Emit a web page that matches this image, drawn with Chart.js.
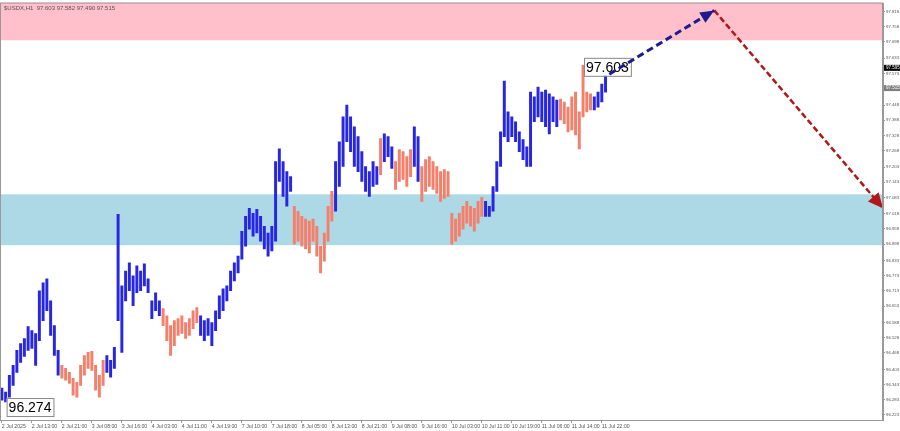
<!DOCTYPE html>
<html><head><meta charset="utf-8">
<script src="https://cdn.jsdelivr.net/npm/chart.js@4"></script>
<style>html,body{margin:0;padding:0;background:#fff;overflow:hidden}#wrap{width:900px;height:431px}</style>
</head><body><div id="wrap"><canvas id="c" width="900" height="431"></canvas></div>
<script>
// ---- data ----
const barHigh = [
96.329,96.313,96.380,96.419,96.478,96.505,96.525,96.572,96.556,96.545,
96.714,96.745,96.761,96.674,96.576,96.478,96.419,96.407,96.391,96.368,
96.352,96.419,96.458,96.470,96.474,96.419,96.380,96.439,96.458,96.439,
96.490,97.016,96.733,96.792,96.824,96.773,96.812,96.792,96.820,96.761,
96.674,96.706,96.674,96.643,96.615,96.576,96.596,96.604,96.615,96.588,
96.604,96.635,96.647,96.615,96.596,96.604,96.588,96.635,96.694,96.721,
96.733,96.792,96.824,96.851,96.949,97.008,97.040,97.020,97.036,97.008,
96.969,96.942,96.969,97.224,97.275,97.224,97.185,97.165,97.048,97.028,
97.008,96.997,96.989,96.997,96.969,96.890,96.942,97.048,97.107,97.224,
97.303,97.401,97.448,97.401,97.362,97.323,97.264,97.205,97.185,97.224,
97.205,97.315,97.334,97.323,97.283,97.224,97.272,97.264,97.244,97.272,
97.362,97.323,97.205,97.232,97.244,97.224,97.205,97.185,97.193,97.185,
97.020,96.997,97.020,97.048,97.067,97.048,97.040,97.067,97.083,97.067,
97.048,97.126,97.224,97.342,97.543,97.421,97.401,97.382,97.342,97.311,
97.283,97.499,97.480,97.519,97.499,97.507,97.492,97.480,97.468,97.472,
97.460,97.440,97.480,97.499,97.421,97.605,97.499,97.492,97.480,97.499,
97.531,97.578];
const barLow = [
96.281,96.274,96.293,96.340,96.391,96.431,96.454,96.478,96.486,96.419,
96.517,96.596,96.635,96.537,96.458,96.380,96.368,96.360,96.348,96.301,
96.293,96.340,96.380,96.407,96.399,96.321,96.293,96.340,96.391,96.372,
96.407,96.596,96.470,96.674,96.714,96.655,96.706,96.714,96.733,96.706,
96.604,96.635,96.615,96.576,96.517,96.458,96.497,96.537,96.545,96.525,
96.537,96.564,96.588,96.537,96.517,96.537,96.497,96.556,96.604,96.635,
96.674,96.714,96.753,96.784,96.839,96.890,96.957,96.930,96.942,96.910,
96.879,96.851,96.871,96.910,97.146,97.087,97.048,97.107,96.898,96.910,
96.890,96.879,96.863,96.910,96.851,96.784,96.831,96.910,96.989,97.028,
97.126,97.205,97.303,97.264,97.205,97.185,97.146,97.107,97.087,97.126,
97.134,97.173,97.224,97.244,97.197,97.114,97.146,97.154,97.126,97.165,
97.205,97.146,97.067,97.107,97.126,97.114,97.099,97.067,97.079,97.087,
96.898,96.910,96.930,96.957,96.981,96.969,96.949,96.981,97.008,97.008,
97.008,97.028,97.107,97.205,97.323,97.303,97.323,97.303,97.264,97.232,
97.205,97.205,97.382,97.401,97.382,97.362,97.334,97.382,97.362,97.389,
97.374,97.342,97.350,97.330,97.275,97.401,97.421,97.429,97.429,97.440,
97.460,97.499];
// wave runs: [first bar, last bar, kind]
const waveRuns = [
[0,15,'up'],[16,27,'corr'],[28,42,'up'],[43,52,'corr'],[53,77,'up'],
[78,88,'corr'],[89,100,'up'],[101,101,'corr'],[102,104,'up'],[105,109,'corr'],
[110,111,'up'],[112,128,'corr'],[129,148,'up'],[149,157,'corr'],[158,161,'up']];
const tickBars = [0,8,16,24,32,40,48,56,64,72,80,88,96,104,112,120,128,136,144,152,160];
const tickLabels = ['2 Jul 2025','2 Jul 13:00','2 Jul 21:00','3 Jul 08:00','3 Jul 16:00','4 Jul 03:00',
'4 Jul 11:00','4 Jul 19:00','7 Jul 10:00','7 Jul 18:00','8 Jul 05:00','8 Jul 13:00','8 Jul 21:00',
'9 Jul 08:00','9 Jul 16:00','10 Jul 03:00','10 Jul 11:00','10 Jul 19:00','11 Jul 06:00','11 Jul 14:00','11 Jul 22:00'];
const priceTicks = [97.818,97.758,97.698,97.633,97.573,97.448,97.388,97.328,97.268,97.203,97.143,
97.083,97.018,96.958,96.898,96.833,96.773,96.713,96.653,96.588,96.528,96.468,96.403,96.343,96.283,96.223];
const targetZone = [97.849, 97.704];
const supportZone = [97.095, 96.894];
const forecastBars = [162, 190, 235];
const forecastPrices = [97.570, 97.822, 97.040];
const extremeBars = [155, 1];
const extremePrices = [97.603, 96.274];
const priceMarks = [97.595, 97.515];
const titleText = '$USDX,H1  97.603 97.582 97.490 97.515';

// ---- styles ----
const UP = '#2626e3', CORR = '#f4806c';
const barColors = barHigh.map((_, i) => {
  const r = waveRuns.find(w => i >= w[0] && i <= w[1]);
  return r && r[2] === 'corr' ? CORR : UP;
});
const FONT = 'Liberation Sans, Arial, sans-serif';

const decor = {
  id: 'decor',
  beforeDatasetsDraw(chart) {
    const {ctx, chartArea: a, scales: {y}} = chart;
    ctx.save();
    ctx.fillStyle = '#ffc0cb';
    let t = y.getPixelForValue(targetZone[0]), b = y.getPixelForValue(targetZone[1]);
    ctx.fillRect(a.left, Math.max(0, t - 1), a.right - a.left, b - t + 1);
    ctx.fillStyle = '#add8e6';
    t = y.getPixelForValue(supportZone[0]); b = y.getPixelForValue(supportZone[1]);
    ctx.fillRect(a.left, t, a.right - a.left, b - t);
    ctx.restore();
  },
  afterDatasetDraw(chart, args) {
    if (args.index !== 0) return;
    const {ctx, scales: {x, y}} = chart;
    ctx.save();
    ctx.font = '14px ' + FONT;
    ctx.textBaseline = 'middle';
    const dy = [-8, -4];
    extremeBars.forEach((bi, k) => {
      const px = x.getPixelForValue(bi) + 1, py = y.getPixelForValue(extremePrices[k]) + dy[k];
      const txt = extremePrices[k].toFixed(3);
      const w = ctx.measureText(txt).width + 4;
      ctx.fillStyle = '#fff';
      ctx.fillRect(px, py, w, 18);
      ctx.strokeStyle = '#888';
      ctx.lineWidth = 1;
      ctx.strokeRect(px + 0.5, py + 0.5, w, 18);
      ctx.fillStyle = '#000';
      ctx.textAlign = 'left';
      ctx.fillText(txt, px + 2, py + 10);
    });
    ctx.restore();
  },
  afterDatasetsDraw(chart) {
    const {ctx, chartArea: a, scales: {x, y}} = chart;
    ctx.save();
    const head = (i0, i1, color, len, wid) => {
      const x0 = x.getPixelForValue(forecastBars[i0]), y0 = y.getPixelForValue(forecastPrices[i0]);
      const x1 = x.getPixelForValue(forecastBars[i1]), y1 = y.getPixelForValue(forecastPrices[i1]);
      const ang = Math.atan2(y1 - y0, x1 - x0);
      ctx.fillStyle = color;
      ctx.beginPath();
      ctx.moveTo(x1, y1);
      ctx.lineTo(x1 - len * Math.cos(ang) + wid * Math.sin(ang), y1 - len * Math.sin(ang) - wid * Math.cos(ang));
      ctx.lineTo(x1 - len * Math.cos(ang) - wid * Math.sin(ang), y1 - len * Math.sin(ang) + wid * Math.cos(ang));
      ctx.closePath();
      ctx.fill();
    };
    head(0, 1, '#1c1c8c', 14, 6);
    head(1, 2, '#b01818', 15, 7);
    ctx.strokeStyle = '#999';
    ctx.lineWidth = 1;
    ctx.strokeRect(a.left + 0.5, a.top - 0.5, a.right - a.left - 1, a.bottom - a.top + 1);
    ctx.restore();
  },
  afterDraw(chart) {
    const {ctx, chartArea: a, scales: {y}} = chart;
    ctx.save();
    ctx.font = '6px ' + FONT;
    ctx.textBaseline = 'top';
    ctx.fillStyle = '#555';
    ctx.fillText(titleText, 4, 5);
    ctx.textBaseline = 'middle';
    priceMarks.forEach((p, k) => {
      const py = y.getPixelForValue(p);
      ctx.fillStyle = k === 0 ? '#000' : '#808080';
      ctx.fillRect(a.right + 1, py - 3, 16, 6);
      ctx.fillStyle = '#fff';
      ctx.font = '4.5px ' + FONT;
      ctx.fillText(p.toFixed(3), a.right + 3, py);
    });
    ctx.restore();
  }
};

new Chart(document.getElementById('c'), {
  data: {
    datasets: [
      {
        type: 'bar',
        data: barHigh.map((h, i) => ({x: i, y: [barLow[i], h]})),
        backgroundColor: barColors,
        borderWidth: 0,
        barThickness: 2.3,
        grouped: false,
        order: 2
      },
      {
        type: 'line',
        data: [0, 1].map(k => ({x: forecastBars[k], y: forecastPrices[k]})),
        borderColor: '#1c1c8c',
        borderWidth: 3,
        borderDash: [7, 4],
        pointRadius: 0,
        clip: false,
        order: 1
      },
      {
        type: 'line',
        data: [1, 2].map(k => ({x: forecastBars[k], y: forecastPrices[k]})),
        borderColor: '#b01818',
        borderWidth: 2.5,
        borderDash: [6, 3],
        pointRadius: 0,
        clip: false,
        order: 1
      }
    ]
  },
  options: {
    responsive: false,
    devicePixelRatio: 1,
    animation: false,
    events: [],
    layout: {padding: {top: 1, left: 0, right: 0, bottom: 0}},
    plugins: {legend: {display: false}, tooltip: {enabled: false}},
    scales: {
      x: {
        type: 'linear',
        position: 'bottom',
        offset: false,
        min: -0.5,
        max: 235,
        afterBuildTicks: s => { s.ticks = tickBars.map(v => ({value: v})); },
        afterFit: s => { s.height = 11; s.paddingLeft = 0; s.paddingRight = 0; },
        grid: {drawOnChartArea: false, offset: false, tickLength: 3, color: '#999'},
        border: {color: '#999'},
        ticks: {
          autoSkip: false, maxRotation: 0, minRotation: 0, align: 'start', padding: 0,
          color: '#555', font: {size: 5.2, family: FONT},
          callback: v => tickLabels[tickBars.indexOf(v)] || ''
        }
      },
      y: {
        type: 'linear',
        position: 'right',
        min: 96.203,
        max: 97.849,
        afterBuildTicks: s => { s.ticks = priceTicks.map(v => ({value: v})); },
        afterFit: s => { s.width = 17; },
        grid: {drawOnChartArea: false, tickLength: 2, color: '#999'},
        border: {color: '#999'},
        ticks: {
          autoSkip: false, padding: 1, color: '#555', font: {size: 4.3, family: FONT},
          callback: v => Number(v).toFixed(3)
        }
      }
    }
  },
  plugins: [decor]
});
</script>
</body></html>
